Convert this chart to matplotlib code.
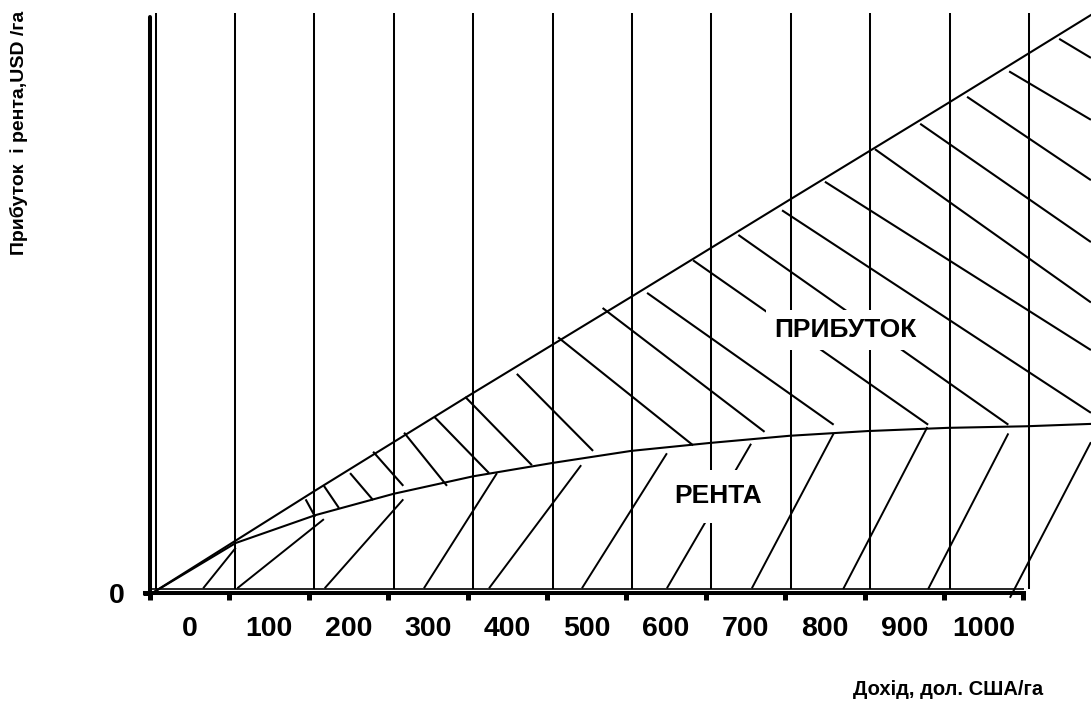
import matplotlib.pyplot as plt
import numpy as np

plt.rcParams['font.family'] = ['Liberation Sans', 'DejaVu Sans']
plt.rcParams['font.weight'] = 'bold'

# income axis: tick marks sit between the labels
tick_pos = [-50, 50, 150, 250, 350, 450, 550, 650, 750, 850, 950, 1050]
income_labels = [0, 100, 200, 300, 400, 500, 600, 700, 800, 900, 1000]
grid_x = [-43, 57, 157, 257, 357, 457, 557, 657, 757, 857, 957, 1057]

# upper boundary (profit + rent) and rent curve
profit_x = [-47, 158, 357, 556, 755, 955, 1135]
profit_y = [0, 129, 252, 373, 495, 617, 728]
rent_x = [-47, 58, 158, 257, 357, 458, 556, 655, 755, 854, 954, 1053, 1135]
rent_y = [0, 63, 98, 125, 147, 164, 179, 189, 198, 204, 208, 210, 213]

# hatching strokes (x0, y0, x1, y1)
profit_hatch = [
    (146, 118, 158, 96), (169, 135, 188, 107), (202, 151, 231, 117),
    (231, 178, 269, 135), (270, 202, 324, 135), (308, 222, 377, 151),
    (347, 247, 431, 161), (412, 276, 508, 179), (464, 322, 634, 186),
    (520, 359, 724, 203), (576, 378, 811, 212), (634, 419, 930, 212),
    (691, 451, 1031, 212), (746, 482, 1135, 227), (800, 518, 1135, 306),
    (863, 559, 1135, 366), (920, 591, 1135, 442), (979, 625, 1135, 520),
    (1032, 657, 1135, 596), (1095, 698, 1135, 674),
]
rent_hatch = [
    (17, 6, 58, 57), (60, 6, 169, 93), (170, 6, 269, 118),
    (295, 6, 387, 151), (377, 6, 493, 161), (494, 6, 601, 176),
    (601, 6, 707, 188), (708, 6, 811, 201), (823, 5, 929, 209),
    (930, 5, 1031, 201), (1033, -6, 1135, 190),
]

fig = plt.figure(figsize=(10.91, 7.06), dpi=100)
ax = fig.add_axes([0, 0, 1, 1])
ax.set_xlim(-238.9, 1135.1)
ax.set_ylim(-142.3, 746.9)

ax.vlines(grid_x, 5, 730, colors='k', lw=1.45, zorder=1)
ax.hlines(5, -50, 1051, colors='k', lw=1.2, zorder=1)

for x0, y0, x1, y1 in profit_hatch:
    ax.plot([x0, x1], [y0, y1], 'k-', lw=1.5, solid_capstyle='butt', zorder=2)
for x0, y0, x1, y1 in rent_hatch:
    ax.plot([x0, x1], [y0, y1], 'k-', lw=1.4, solid_capstyle='butt', zorder=2)

ax.plot(profit_x, profit_y, 'k-', lw=1.5, zorder=3)
ax.plot(rent_x, rent_y, 'k-', lw=1.5, zorder=3)

ax.text(826, 331, 'ПРИБУТОК', fontsize=19, fontweight='bold', ha='center', va='center',
        bbox=dict(boxstyle='square,pad=0.3', fc='white', ec='none'), zorder=5)
ax.text(665, 122, 'РЕНТА', fontsize=19, fontweight='bold', ha='center', va='center',
        bbox=dict(boxstyle='square,pad=0.55', fc='white', ec='none'), zorder=5)

for side in ['top', 'right']:
    ax.spines[side].set_visible(False)
ax.spines['left'].set_position(('data', -50))
ax.spines['left'].set_bounds(0, 725)
ax.spines['left'].set_linewidth(2.9)
ax.spines['left'].set_capstyle('round')
ax.spines['bottom'].set_position(('data', 0))
ax.spines['bottom'].set_bounds(-56, 1051)
ax.spines['bottom'].set_linewidth(2.9)

ax.set_xticks(tick_pos)
ax.set_xticks(income_labels, minor=True)
ax.set_xticklabels([str(v) for v in income_labels], minor=True)
ax.tick_params(axis='x', which='major', direction='out', length=5, width=3.6, labelbottom=False)
ax.tick_params(axis='x', which='minor', length=0, pad=16.5, labelsize=20.5)
ax.set_yticks([0])
ax.set_yticklabels(['0'])
ax.tick_params(axis='y', direction='out', length=5, width=3.6, pad=13, labelsize=20.5)

ax.set_xlabel('Дохід, дол. США/га', fontsize=14.5, fontweight='bold')
ax.xaxis.set_label_coords(948 / 1091, 1 - 680 / 706)
ax.set_ylabel('Прибуток  і рента,USD /га', fontsize=14, fontweight='bold')
ax.yaxis.set_label_coords(28 / 1091, 1 - 133 / 706)

fig.savefig('out.png', dpi=100)
